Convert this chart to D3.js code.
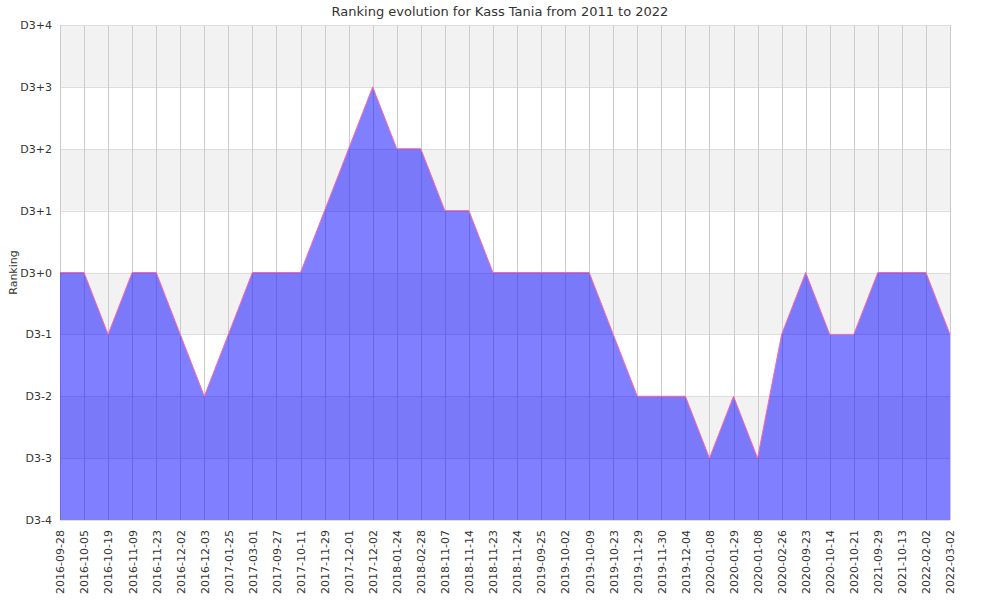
<!DOCTYPE html>
<html>
<head>
<meta charset="utf-8">
<script src="https://cdn.jsdelivr.net/npm/d3@7"></script>
<style>
  body { margin: 0; background: #fff; }
  svg { display: block; font-family: "DejaVu Sans", sans-serif; }
</style>
</head>
<body>
<svg id="chart" width="1000" height="600"></svg>
<script>
const title = "Ranking evolution for Kass Tania from 2011 to 2022";
const yAxisTitle = "Ranking";
const dates = [
  "2016-09-28","2016-10-05","2016-10-19","2016-11-09","2016-11-23","2016-12-02","2016-12-03",
  "2017-01-25","2017-03-01","2017-09-27","2017-10-11","2017-11-29","2017-12-01","2017-12-02",
  "2018-01-24","2018-02-28","2018-11-07","2018-11-14","2018-11-23","2018-11-24",
  "2019-09-25","2019-10-02","2019-10-09","2019-10-23","2019-11-29","2019-11-30","2019-12-04",
  "2020-01-08","2020-01-29","2020-01-08","2020-02-26","2020-09-23","2020-10-14","2020-10-21",
  "2021-09-29","2021-10-13","2022-02-02","2022-03-02"
];
const ranking = [
  0, 0, -1, 0, 0, -1, -2,
  -1, 0, 0, 0, 1, 2, 3,
  2, 2, 1, 1, 0, 0,
  0, 0, 0, -1, -2, -2, -2,
  -3, -2, -3, -1, 0, -1, -1,
  0, 0, 0, -1
];
const yTickValues = [-4, -3, -2, -1, 0, 1, 2, 3, 4];
const yTickLabels = ["D3-4","D3-3","D3-2","D3-1","D3+0","D3+1","D3+2","D3+3","D3+4"];

const svg = d3.select("#chart");
const m = { left: 60, right: 50, top: 25, bottom: 80 };
const W = 1000, H = 600;
const iw = W - m.left - m.right, ih = H - m.top - m.bottom;

const idx = d3.range(dates.length);
const x = d3.scalePoint().domain(idx).range([0, iw]);
const y = d3.scaleLinear().domain([-4, 4]).range([ih, 0]);

const g = svg.append("g").attr("transform", `translate(${m.left},${m.top})`);

// alternating bands
const bands = d3.range(-4, 4).map(v => ({ lo: v, hi: v + 1 }));
g.selectAll("rect.band").data(bands).join("rect")
  .attr("x", 0).attr("width", iw)
  .attr("y", d => y(d.hi)).attr("height", d => y(d.lo) - y(d.hi))
  .attr("fill", d => ((d.hi - 4) % 2 === 0) ? "#f2f2f2" : "#ffffff");

// horizontal grid
g.selectAll("line.hg").data(yTickValues).join("line")
  .attr("x1", 0).attr("x2", iw)
  .attr("y1", d => Math.round(y(d)) + 0.5).attr("y2", d => Math.round(y(d)) + 0.5)
  .attr("stroke", "#dddddd").attr("stroke-width", 1);

// vertical grid
g.selectAll("line.vg").data(idx).join("line")
  .attr("x1", d => Math.round(x(d)) + 0.5).attr("x2", d => Math.round(x(d)) + 0.5)
  .attr("y1", 0).attr("y2", ih)
  .attr("stroke", "#cccccc").attr("stroke-width", 1);

// area
const area = d3.area().x((d, i) => x(i)).y0(y(-4)).y1(d => y(d));
g.append("path").datum(ranking)
  .attr("d", area)
  .attr("fill", "rgba(0,0,255,0.5)");

const line = d3.line().x((d, i) => x(i)).y(d => y(d));
g.append("path").datum(ranking)
  .attr("d", line)
  .attr("fill", "none")
  .attr("stroke", "#ff66aa")
  .attr("stroke-width", 1);

// y axis labels
const yAxis = d3.axisLeft(y).tickValues(yTickValues)
  .tickFormat((d, i) => yTickLabels[i]).tickSize(0).tickPadding(8);
const ya = g.append("g").call(yAxis);
ya.select(".domain").remove();
ya.selectAll("text").attr("fill", "#333").style("font-size", "11px")
  .style("font-family", "DejaVu Sans, sans-serif");

// x axis labels
const xAxis = d3.axisBottom(x).tickFormat(i => dates[i]).tickSize(0).tickPadding(0);
const xa = g.append("g").attr("transform", `translate(0,${ih})`).call(xAxis);
xa.select(".domain").remove();
xa.selectAll("text")
  .attr("fill", "#333").style("font-size", "11px")
  .style("font-family", "DejaVu Sans, sans-serif")
  .attr("transform", "rotate(-90)")
  .attr("text-anchor", "end")
  .attr("x", -10).attr("y", 0).attr("dy", "0.35em");

// title
svg.append("text").attr("x", W / 2).attr("y", 16)
  .attr("text-anchor", "middle").attr("fill", "#333")
  .style("font-size", "13px").text(title);

// y axis title
svg.append("text")
  .attr("transform", `translate(17,${m.top + ih / 2}) rotate(-90)`)
  .attr("text-anchor", "middle").attr("fill", "#333")
  .style("font-size", "11px").text(yAxisTitle);
</script>
</body>
</html>
